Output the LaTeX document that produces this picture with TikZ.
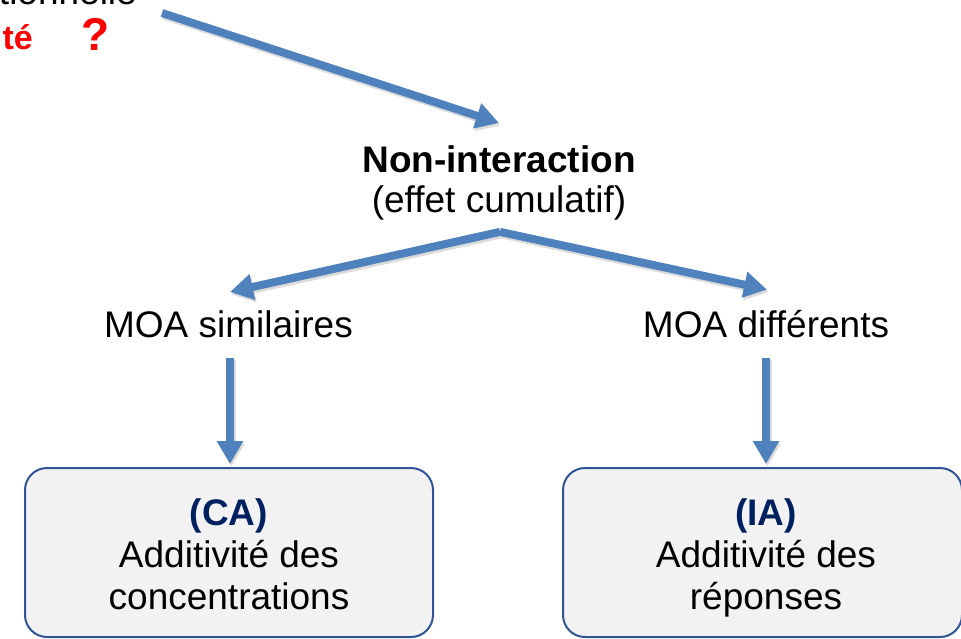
\documentclass[tikz,border=0pt]{standalone}
\usepackage{fontspec}
\setmainfont{Liberation Sans}
\usetikzlibrary{arrows.meta,calc}
\definecolor{arrowblue}{HTML}{4F81BD}
\definecolor{boxfill}{HTML}{F2F2F2}
\definecolor{boxline}{HTML}{2F5597}
\definecolor{navy}{HTML}{002060}
\definecolor{qred}{HTML}{FF0000}
\begin{document}
\begin{tikzpicture}[x=1pt,y=-1pt,
  txt/.style={inner sep=0pt, font=\fontsize{37}{42}\selectfont},
  btxt/.style={inner sep=0pt, font=\fontsize{37}{42}\selectfont\bfseries},
  redtxt/.style={inner sep=0pt, text=qred, font=\fontsize{34}{40}\selectfont\bfseries},
  qmark/.style={inner sep=0pt, text=qred, font=\fontsize{46}{50}\selectfont\bfseries},
  resultbox/.style={draw=boxline, line width=2pt, fill=boxfill, rounded corners=22pt, inner sep=0pt},
  arr/.style={draw=arrowblue, line width=8pt, -{Triangle[length=23pt,width=25pt]},
    preaction={draw=black!14, line width=8pt, -{Triangle[length=23pt,width=25pt]},
      transform canvas={shift={(1.5pt,-2.5pt)}}}}
]
\useasboundingbox (0,0) rectangle (961,638);
\clip (0,0) rectangle (961,638);

% top-left partial texts
\node[txt, anchor=base east] (t1) at (137,4) {tionnelle};
\node[redtxt, anchor=base east] (t2) at (33,49) {té};
\node[qmark, anchor=base] (q) at (95.5,50) {?};

% central texts
\node[btxt, anchor=base] (ni) at (499,172) {Non-interaction};
\node[txt, anchor=base] (ec) at (499,212) {(effet cumulatif)};

\node[txt, anchor=base] (moa1) at (228.5,337) {MOA similaires};
\node[txt, anchor=base] (moa2) at (766,337) {MOA différents};

% boxes
\node[resultbox, minimum width=408pt, minimum height=169pt] (boxl) at (229,552.5) {};
\node[resultbox, minimum width=399pt, minimum height=169pt] (boxr) at (762.5,552.5) {};

\node[btxt, anchor=base, text=navy] (ca) at (229,525) {(CA)};
\node[txt, anchor=base] (ca2) at (229,567) {Additivité des};
\node[txt, anchor=base] (ca3) at (229,609) {concentrations};

\node[btxt, anchor=base, text=navy] (ia) at (766,525) {(IA)};
\node[txt, anchor=base] (ia2) at (766,567) {Additivité des};
\node[txt, anchor=base] (ia3) at (766,609) {réponses};

% connector points
\coordinate (start) at (162,13);
\coordinate (apex) at ($(ec.south)+(1,12)$);

% arrows
\draw[arr] (start) -- ($(ni.north)+(0,-22)$);
\draw[arr] (apex) -- ($(moa1.north)+(1.5,-18)$);
\draw[arr] (apex) -- ($(moa2.north)+(1,-20)$);
\draw[arr] ($(moa1.south)+(1.5,20)$) -- ($(boxl.north)+(1,-3)$);
\draw[arr] ($(moa2.south)+(0,20)$) -- ($(boxr.north)+(3.5,-3)$);
\end{tikzpicture}
\end{document}
